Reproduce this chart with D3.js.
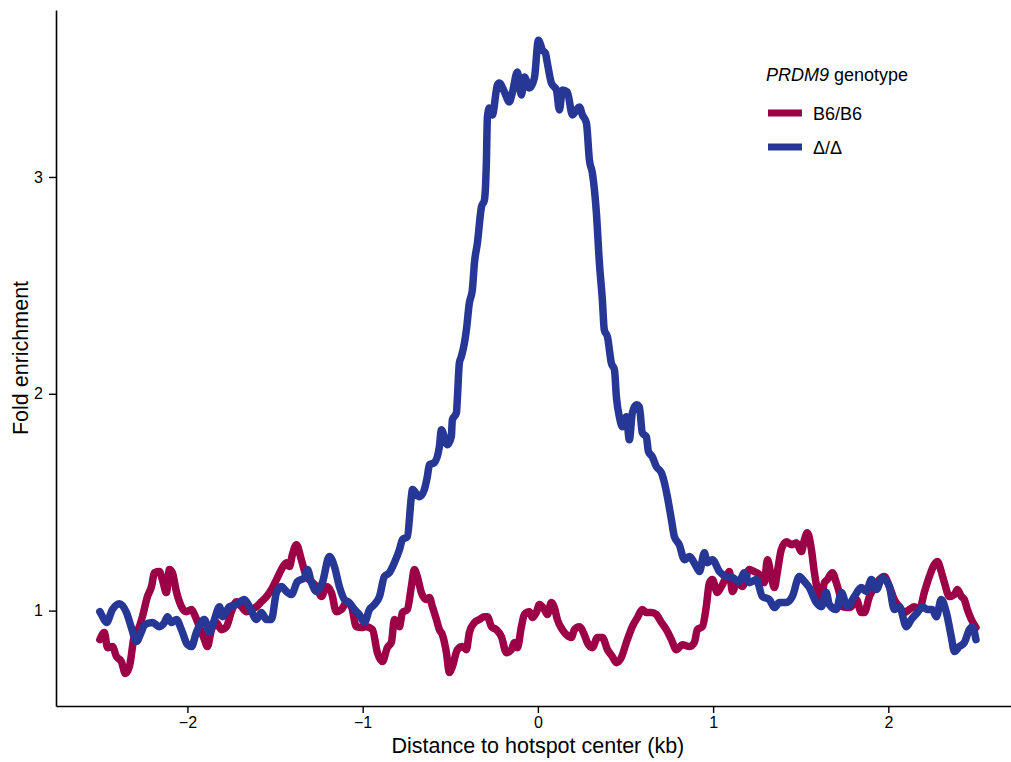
<!DOCTYPE html>
<html>
<head>
<meta charset="utf-8">
<script src="https://cdn.jsdelivr.net/npm/d3@7"></script>
<style>
  html, body { margin: 0; padding: 0; background: #fff; }
  svg { display: block; }
  text { font-family: "Liberation Sans", Arial, Helvetica, sans-serif; fill: #000; }
</style>
</head>
<body>
<svg id="chart" width="1011" height="762"></svg>
<script>
// Axis ranges and ticks
const xDomain = [-2.75, 2.7];
const yDomain = [0.56, 3.77];
const xTicks = [-2, -1, 0, 1, 2];
const yTicks = [1, 2, 3];

// Series labels and colours
const genotypes = ["B6/B6", "Δ/Δ"];
const genotypeColors = ["#9c0047", "#263795"];

// Fold enrichment vs distance to hotspot center (kb), B6/B6
const b6Profile = [
  [-2.500,0.866],[-2.474,0.899],[-2.456,0.829],[-2.428,0.834],[-2.405,0.788],[-2.377,0.765],[-2.354,0.710],[-2.331,0.742],
  [-2.302,0.889],[-2.274,0.926],[-2.257,0.972],[-2.228,1.065],[-2.205,1.111],[-2.188,1.175],[-2.160,1.180],[-2.143,1.143],
  [-2.120,1.083],[-2.103,1.189],[-2.086,1.175],[-2.063,1.088],[-2.034,1.018],[-2.006,0.995],[-1.977,1.005],[-1.960,0.982],
  [-1.932,0.926],[-1.903,0.866],[-1.886,0.834],[-1.863,0.912],[-1.835,0.945],[-1.806,0.912],[-1.777,0.926],[-1.749,0.995],
  [-1.720,1.041],[-1.692,1.018],[-1.663,0.995],[-1.635,1.005],[-1.606,1.018],[-1.578,1.041],[-1.549,1.065],[-1.521,1.097],
  [-1.492,1.143],[-1.464,1.189],[-1.435,1.221],[-1.418,1.203],[-1.401,1.258],[-1.378,1.304],[-1.350,1.235],[-1.321,1.157],
  [-1.292,1.134],[-1.264,1.111],[-1.235,1.065],[-1.207,1.111],[-1.178,1.083],[-1.150,0.995],[-1.121,1.005],[-1.093,1.037],
  [-1.064,1.018],[-1.036,0.926],[-1.007,0.922],[-0.979,0.926],[-0.944,0.912],[-0.916,0.806],[-0.887,0.765],[-0.859,0.829],
  [-0.836,0.853],[-0.819,0.959],[-0.790,0.926],[-0.773,0.991],[-0.745,1.005],[-0.722,1.111],[-0.705,1.189],[-0.688,1.157],
  [-0.665,1.083],[-0.636,1.051],[-0.619,1.060],[-0.602,1.018],[-0.579,0.959],[-0.562,0.912],[-0.545,0.889],[-0.522,0.806],
  [-0.505,0.714],[-0.488,0.742],[-0.459,0.820],[-0.431,0.834],[-0.408,0.820],[-0.391,0.899],[-0.362,0.945],[-0.334,0.959],
  [-0.305,0.972],[-0.288,0.972],[-0.265,0.926],[-0.237,0.912],[-0.208,0.880],[-0.180,0.806],[-0.151,0.820],[-0.134,0.853],
  [-0.117,0.829],[-0.094,0.926],[-0.077,0.982],[-0.049,0.995],[-0.031,0.968],[-0.009,0.991],[0.009,1.028],[0.037,1.005],
  [0.054,0.982],[0.077,1.037],[0.094,1.014],[0.111,0.959],[0.140,0.912],[0.163,0.889],[0.191,0.876],[0.208,0.912],
  [0.237,0.926],[0.265,0.889],[0.282,0.853],[0.311,0.829],[0.340,0.876],[0.368,0.876],[0.397,0.820],[0.425,0.788],
  [0.448,0.760],[0.476,0.783],[0.505,0.853],[0.539,0.926],[0.568,0.968],[0.596,1.005],[0.619,0.991],[0.648,0.991],
  [0.676,0.982],[0.705,0.945],[0.733,0.912],[0.762,0.866],[0.790,0.820],[0.825,0.843],[0.864,0.834],[0.893,0.853],
  [0.910,0.912],[0.939,0.926],[0.961,1.018],[0.979,1.129],[0.996,1.143],[1.024,1.083],[1.047,1.111],[1.076,1.157],
  [1.093,1.180],[1.110,1.088],[1.138,1.134],[1.167,1.111],[1.207,1.189],[1.235,1.180],[1.264,1.166],[1.292,1.129],
  [1.310,1.235],[1.332,1.157],[1.350,1.106],[1.367,1.180],[1.389,1.281],[1.418,1.318],[1.447,1.304],[1.475,1.313],
  [1.504,1.272],[1.521,1.327],[1.538,1.359],[1.561,1.281],[1.578,1.175],[1.595,1.097],[1.618,1.060],[1.635,1.129],
  [1.652,1.143],[1.680,1.175],[1.703,1.129],[1.720,1.083],[1.738,1.018],[1.766,1.014],[1.789,1.018],[1.817,1.051],
  [1.846,0.991],[1.863,0.991],[1.892,1.065],[1.920,1.106],[1.949,1.143],[1.977,1.157],[2.006,1.111],[2.034,1.051],
  [2.063,1.018],[2.091,0.991],[2.120,1.005],[2.148,1.018],[2.177,1.005],[2.205,1.083],[2.234,1.157],[2.262,1.212],
  [2.280,1.226],[2.302,1.180],[2.320,1.129],[2.348,1.065],[2.377,1.074],[2.394,1.097],[2.417,1.065],[2.434,1.051],
  [2.451,1.005],[2.474,0.959],[2.500,0.922]
];

// Fold enrichment vs distance to hotspot center (kb), Δ/Δ
const deltaProfile = [
  [-2.500,0.995],[-2.491,0.982],[-2.462,0.945],[-2.428,1.005],[-2.388,1.032],[-2.348,0.991],[-2.320,0.922],[-2.291,0.857],
  [-2.262,0.903],[-2.245,0.935],[-2.200,0.945],[-2.160,0.926],[-2.131,0.945],[-2.114,0.972],[-2.091,0.945],[-2.063,0.959],
  [-2.034,0.912],[-2.000,0.843],[-1.977,0.834],[-1.949,0.899],[-1.903,0.959],[-1.874,0.899],[-1.846,0.959],[-1.817,1.018],
  [-1.800,0.972],[-1.760,1.018],[-1.720,1.028],[-1.675,1.051],[-1.646,1.018],[-1.606,0.959],[-1.578,0.991],[-1.549,0.959],
  [-1.521,0.959],[-1.492,1.083],[-1.464,1.111],[-1.435,1.088],[-1.407,1.074],[-1.372,1.134],[-1.332,1.152],[-1.315,1.189],
  [-1.292,1.129],[-1.264,1.088],[-1.230,1.129],[-1.190,1.249],[-1.161,1.203],[-1.133,1.111],[-1.104,1.051],[-1.076,1.037],
  [-1.047,1.005],[-1.019,0.982],[-0.990,0.945],[-0.961,1.005],[-0.933,1.028],[-0.904,1.065],[-0.876,1.157],[-0.847,1.175],
  [-0.819,1.221],[-0.790,1.281],[-0.773,1.327],[-0.745,1.341],[-0.722,1.525],[-0.716,1.558],[-0.676,1.525],[-0.648,1.558],
  [-0.631,1.617],[-0.619,1.673],[-0.591,1.682],[-0.562,1.756],[-0.551,1.834],[-0.534,1.802],[-0.516,1.765],[-0.494,1.802],
  [-0.488,1.880],[-0.465,1.912],[-0.459,1.986],[-0.448,2.143],[-0.437,2.171],[-0.419,2.235],[-0.408,2.295],[-0.391,2.419],
  [-0.374,2.479],[-0.362,2.604],[-0.345,2.696],[-0.322,2.862],[-0.305,2.894],[-0.294,3.065],[-0.288,3.276],[-0.277,3.318],
  [-0.260,3.286],[-0.231,3.424],[-0.220,3.433],[-0.191,3.392],[-0.163,3.346],[-0.146,3.387],[-0.117,3.484],[-0.094,3.378],
  [-0.077,3.461],[-0.049,3.410],[-0.020,3.456],[0.003,3.631],[0.026,3.585],[0.043,3.571],[0.054,3.525],[0.077,3.433],
  [0.106,3.401],[0.123,3.309],[0.140,3.401],[0.168,3.392],[0.197,3.286],[0.220,3.309],[0.237,3.323],[0.254,3.286],
  [0.277,3.249],[0.294,3.078],[0.311,3.018],[0.334,2.834],[0.351,2.604],[0.368,2.433],[0.379,2.295],[0.397,2.263],
  [0.419,2.143],[0.437,2.111],[0.448,1.986],[0.465,1.894],[0.482,1.848],[0.505,1.894],[0.522,1.788],[0.539,1.912],
  [0.562,1.949],[0.579,1.940],[0.596,1.820],[0.619,1.802],[0.631,1.733],[0.653,1.710],[0.676,1.664],[0.705,1.636],
  [0.722,1.590],[0.739,1.525],[0.762,1.419],[0.779,1.341],[0.807,1.304],[0.836,1.235],[0.864,1.249],[0.904,1.203],
  [0.922,1.180],[0.950,1.267],[0.967,1.221],[0.996,1.235],[1.036,1.180],[1.076,1.157],[1.110,1.152],[1.150,1.134],
  [1.178,1.175],[1.207,1.129],[1.247,1.143],[1.281,1.065],[1.321,1.051],[1.350,1.014],[1.378,1.037],[1.418,1.037],
  [1.452,1.065],[1.492,1.157],[1.521,1.134],[1.549,1.106],[1.589,1.037],[1.618,1.018],[1.646,1.083],[1.663,1.028],
  [1.703,1.005],[1.732,1.083],[1.766,1.018],[1.806,1.065],[1.846,1.106],[1.874,1.088],[1.903,1.143],[1.932,1.097],
  [1.966,1.152],[2.006,1.111],[2.034,1.005],[2.063,1.018],[2.103,0.926],[2.131,0.959],[2.166,0.991],[2.194,1.018],
  [2.223,1.005],[2.251,1.005],[2.274,0.972],[2.302,1.051],[2.331,0.991],[2.359,0.880],[2.377,0.811],[2.405,0.834],
  [2.434,0.853],[2.462,0.912],[2.479,0.926],[2.500,0.866]
];

const profiles = [b6Profile, deltaProfile];

const svg = d3.select("#chart");
const fontFamily = '"Liberation Sans", Arial, Helvetica, sans-serif';

const x = d3.scaleLinear().domain(xDomain).range([56, 1011]);
const y = d3.scaleLinear().domain(yDomain).range([706, 10]);

// Profile lines (B6/B6 first, Δ/Δ drawn on top)
const line = d3.line()
  .x(d => x(d[0]))
  .y(d => y(d[1]))
  .curve(d3.curveMonotoneX);
svg.append("g")
  .selectAll("path")
  .data(profiles)
  .join("path")
  .attr("d", line)
  .attr("fill", "none")
  .attr("stroke", (d, i) => genotypeColors[i])
  .attr("stroke-width", 7.5)
  .attr("stroke-linejoin", "round")
  .attr("stroke-linecap", "round");

// Axes
const tickFmt = d3.format("d");
const xAxis = svg.append("g")
  .attr("transform", `translate(0,${y.range()[0]})`)
  .call(d3.axisBottom(x).tickValues(xTicks).tickFormat(tickFmt)
    .tickSize(7).tickSizeOuter(0).tickPadding(4));
const yAxis = svg.append("g")
  .attr("transform", `translate(${x.range()[0]},0)`)
  .call(d3.axisLeft(y).tickValues(yTicks).tickFormat(tickFmt)
    .tickSize(7).tickSizeOuter(0).tickPadding(6));

[xAxis, yAxis].forEach(g => {
  g.attr("font-size", 16).attr("font-family", fontFamily);
  g.selectAll("path.domain").attr("stroke", "#000").attr("stroke-width", 1.6);
  g.selectAll(".tick line").attr("stroke", "#000").attr("stroke-width", 1.4);
  g.selectAll(".tick text").attr("fill", "#000");
});

// Axis titles
svg.append("text")
  .attr("x", x(0))
  .attr("y", 753)
  .attr("text-anchor", "middle")
  .attr("font-size", 21.5)
  .text("Distance to hotspot center (kb)");

svg.append("text")
  .attr("transform", `translate(28,${(y.range()[0] + y.range()[1]) / 2}) rotate(-90)`)
  .attr("text-anchor", "middle")
  .attr("font-size", 21.5)
  .text("Fold enrichment");

// Legend
const legend = svg.append("g").attr("transform", "translate(766,0)");
const legendTitle = legend.append("text")
  .attr("x", 0)
  .attr("y", 81)
  .attr("font-size", 18);
legendTitle.append("tspan").attr("font-style", "italic").text("PRDM9");
legendTitle.append("tspan").text(" genotype");

const items = legend.selectAll("g.item")
  .data(genotypes)
  .join("g")
  .attr("class", "item")
  .attr("transform", (d, i) => `translate(0,${113 + i * 34})`);
items.append("line")
  .attr("x1", 2).attr("x2", 36)
  .attr("y1", 0).attr("y2", 0)
  .attr("stroke", (d, i) => genotypeColors[i])
  .attr("stroke-width", 7);
items.append("text")
  .attr("x", 47)
  .attr("y", 6.5)
  .attr("font-size", 18)
  .text(d => d);
</script>
</body>
</html>
